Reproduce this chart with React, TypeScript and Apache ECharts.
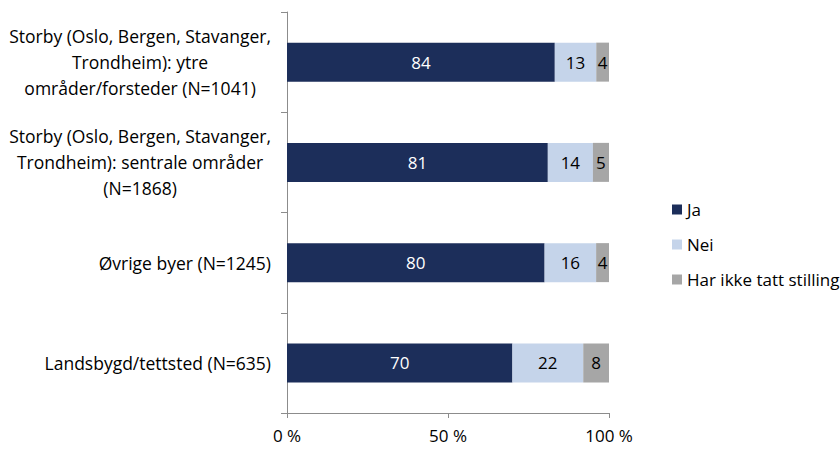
import React, { useEffect, useRef } from "react";
import * as echarts from "echarts";

const categories = [
  "Storby (Oslo, Bergen, Stavanger,\nTrondheim): ytre\nområder/forsteder (N=1041)",
  "Storby (Oslo, Bergen, Stavanger,\nTrondheim): sentrale områder\n(N=1868)",
  "Øvrige byer (N=1245)",
  "Landsbygd/tettsted (N=635)",
];
const seriesNames = ["Ja", "Nei", "Har ikke tatt stilling"];
const ja = [84, 81, 80, 70];
const nei = [13, 14, 16, 22];
const harIkke = [4, 5, 4, 8];
const xTickValues = [0, 50, 100];

const colors = ["#1C2E5A", "#C5D4EA", "#A6A6A6"];
const labelColors = ["#FFFFFF", "#000000", "#000000"];
const FONT = "'Open Sans', sans-serif";
const FS = 17;
const FS_AXIS = 17.5;

export default function App() {
  const ref = useRef<HTMLDivElement>(null);
  useEffect(() => {
    if (!ref.current) return;
    const chart = echarts.init(ref.current, undefined, { renderer: "svg" });
    const raw = [ja, nei, harIkke];
    const totals = categories.map((_, i) => ja[i] + nei[i] + harIkke[i]);
    const series = raw.map((vals, s) => ({
      name: seriesNames[s],
      type: "bar",
      stack: "total",
      barWidth: 39,
      itemStyle: { color: colors[s] },
      data: vals.map((v, i) => (v / totals[i]) * 100),
      label: {
        show: true,
        position: "inside",
        color: labelColors[s],
        fontSize: FS,
        fontFamily: FONT,
        formatter: (p: any) => String(vals[p.dataIndex]),
      },
      emphasis: { disabled: true },
    }));
    chart.setOption({
      animation: false,
      textStyle: { fontFamily: FONT },
      grid: { left: 287, right: 231, top: 12, bottom: 36, containLabel: false },
      legend: {
        orient: "vertical",
        left: 667,
        top: 194,
        itemWidth: 10,
        itemHeight: 10,
        itemGap: 14,
        icon: "rect",
        data: seriesNames,
        textStyle: { fontSize: FS, color: "#000", fontFamily: FONT, lineHeight: 21 },
        selectedMode: false,
      },
      xAxis: {
        type: "value",
        min: 0,
        max: 100,
        interval: 50,
        axisLine: { show: true, lineStyle: { color: "#8C8C8C" } },
        axisTick: { show: true, length: 5, lineStyle: { color: "#8C8C8C" } },
        splitLine: { show: false },
        axisLabel: {
          margin: 14,
          fontSize: FS,
          color: "#000",
          fontFamily: FONT,
          customValues: xTickValues,
          formatter: (v: number) => `${v} %`,
        },
      },
      yAxis: {
        type: "category",
        inverse: true,
        data: categories,
        axisLine: { show: true, lineStyle: { color: "#8C8C8C" } },
        axisTick: { show: true, length: 6, lineStyle: { color: "#8C8C8C" } },
        axisLabel: {
          margin: 16,
          formatter: (v: string) =>
            v
              .split("\n")
              .map((l) => `{c|${l}}`)
              .join("\n"),
          rich: {
            c: {
              align: "center",
              fontSize: FS_AXIS,
              lineHeight: 26,
              color: "#000",
              fontFamily: FONT,
            },
          },
        },
      },
      series,
    });
    return () => chart.dispose();
  }, []);
  return (
    <div
      ref={ref}
      style={{ position: "fixed", left: 0, top: 0, width: 840, height: 449, background: "#fff" }}
    />
  );
}
